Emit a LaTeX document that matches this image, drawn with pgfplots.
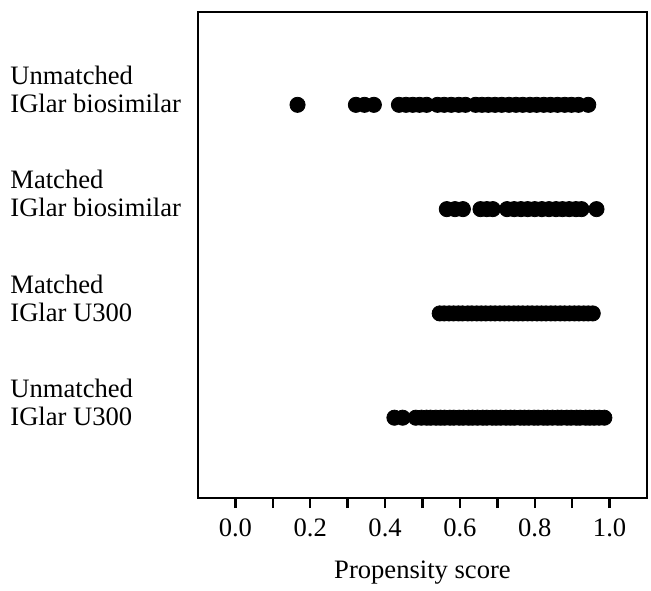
\documentclass[border=0pt]{standalone}
\usepackage{fontspec}
\setmainfont{Liberation Serif}
\usepackage{pgfplots}
\pgfplotsset{compat=1.18}

\begin{document}
\begin{tikzpicture}
\begin{axis}[
  scale only axis, width=224.5pt, height=243pt,
  xmin=-0.1, xmax=1.1, ymin=0.23, ymax=4.89,
  axis line style={line width=1.2pt},
  xtick={0,0.2,...,1}, minor xtick={0.1,0.3,0.5,0.7,0.9},
  xtick pos=bottom, tick align=outside,
  major tick length=5pt, minor tick length=5pt,
  every tick/.style={black, line width=1.2pt},
  xticklabel style={/pgf/number format/fixed, /pgf/number format/fixed zerofill,
    /pgf/number format/precision=1, /pgf/number format/assume math mode=true,
    font=\fontsize{13.3}{15}\selectfont, yshift=-2pt},
  ytick={1,2,3,4},
  yticklabels={{Unmatched\\IGlar U300},{Matched\\IGlar U300},{Matched\\IGlar biosimilar},{Unmatched\\IGlar biosimilar}},
  ytick style={draw=none},
  yticklabel style={align=left, anchor=south west, inner xsep=0pt, xshift=-89pt, yshift=-7.6pt,
    font=\fontsize{13.3}{14}\selectfont},
  xlabel={Propensity score},
  xlabel style={font=\fontsize{13.3}{15}\selectfont, yshift=-5pt},
  clip=false,
]
% Unmatched IGlar U300
\addplot[only marks, mark=*, mark size=3.8pt, black] coordinates {
 (0.425,1) (0.447,1) (0.482,1) (0.497,1) (0.511,1) (0.522,1) (0.536,1) (0.548,1)
 (0.559,1) (0.573,1) (0.584,1) (0.598,1) (0.609,1) (0.623,1) (0.634,1) (0.647,1)
 (0.661,1) (0.672,1) (0.686,1) (0.697,1) (0.709,1) (0.723,1) (0.735,1) (0.746,1)
 (0.761,1) (0.772,1) (0.784,1) (0.798,1) (0.809,1) (0.823,1) (0.834,1) (0.847,1)
 (0.861,1) (0.871,1) (0.886,1) (0.897,1) (0.911,1) (0.921,1) (0.936,1) (0.947,1)
 (0.959,1) (0.972,1) (0.986,1)
};
% Matched IGlar U300
\addplot[only marks, mark=*, mark size=3.8pt, black] coordinates {
 (0.546,2) (0.558,2) (0.571,2) (0.583,2) (0.596,2) (0.607,2) (0.621,2) (0.632,2)
 (0.645,2) (0.657,2) (0.669,2) (0.682,2) (0.694,2) (0.707,2) (0.719,2) (0.731,2)
 (0.744,2) (0.756,2) (0.768,2) (0.781,2) (0.793,2) (0.806,2) (0.818,2) (0.830,2)
 (0.843,2) (0.855,2) (0.868,2) (0.880,2) (0.893,2) (0.906,2) (0.918,2) (0.931,2)
 (0.943,2) (0.955,2)
};
% Matched IGlar biosimilar
\addplot[only marks, mark=*, mark size=3.8pt, black] coordinates {
 (0.565,3) (0.587,3) (0.608,3)
 (0.655,3) (0.672,3) (0.688,3)
 (0.726,3) (0.745,3) (0.763,3) (0.781,3) (0.800,3) (0.819,3) (0.838,3) (0.857,3)
 (0.874,3) (0.892,3) (0.910,3) (0.925,3)
 (0.965,3)
};
% Unmatched IGlar biosimilar
\addplot[only marks, mark=*, mark size=3.8pt, black] coordinates {
 (0.166,4)
 (0.322,4) (0.345,4) (0.370,4)
 (0.437,4) (0.456,4) (0.474,4) (0.492,4) (0.511,4)
 (0.540,4) (0.558,4) (0.577,4) (0.597,4) (0.615,4)
 (0.642,4) (0.659,4) (0.676,4) (0.694,4) (0.712,4) (0.731,4) (0.750,4) (0.768,4)
 (0.787,4) (0.805,4) (0.824,4) (0.842,4) (0.861,4) (0.880,4) (0.898,4) (0.917,4)
 (0.943,4)
};
\end{axis}
\pgfresetboundingbox
\useasboundingbox ([shift={(-99pt,-46pt)}]current axis.south west)
  rectangle ([shift={(2pt,6pt)}]current axis.north east);
\end{tikzpicture}
\end{document}
